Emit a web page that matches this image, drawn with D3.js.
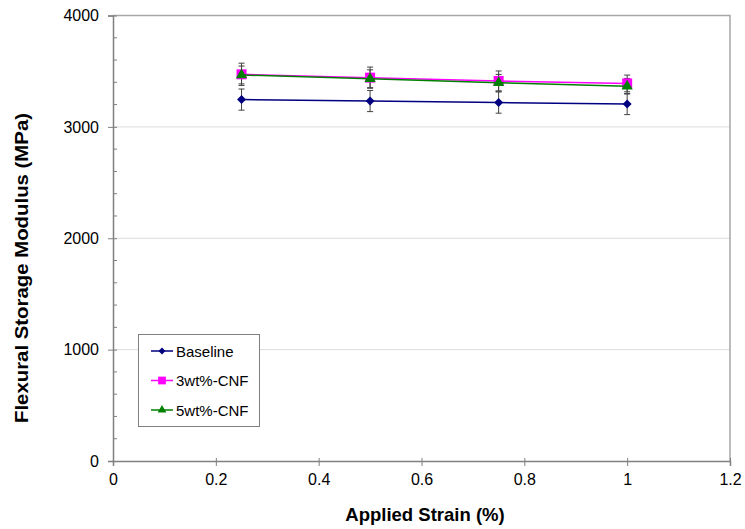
<!DOCTYPE html>
<html lang="en">
<head>
  <meta charset="UTF-8">
  <title>Flexural Storage Modulus</title>
  <script src="https://d3js.org/d3.v7.min.js"></script>
  <style>
    body { margin: 0; background: #fff; }
    text { font-family: "Liberation Sans", Arial, sans-serif; }
  </style>
</head>
<body>
  <div id="chart"></div>
  <script>
    // dados
    const strain = [0.25, 0.5, 0.75, 1];
    const baseline = [3245, 3232, 3218, 3205];
    const baselineErr = [95, 95, 95, 95];
    const cnf3 = [3472, 3442, 3412, 3390];
    const cnf3Err = [100, 95, 90, 75];
    const cnf5 = [3466, 3432, 3396, 3365];
    const cnf5Err = [80, 80, 75, 70];
    const xTicks = [0, 0.2, 0.4, 0.6, 0.8, 1, 1.2];
    const yTicks = [0, 1000, 2000, 3000, 4000];
    const seriesNames = ["Baseline", "3wt%-CNF", "5wt%-CNF"];

    const width = 745, height = 529;
    const mLeft = 113, mRight = 730, mTop = 15.5, mBottom = 461;

    const svg = d3.select("#chart").append("svg")
      .attr("width", width).attr("height", height);

    const x = d3.scaleLinear().domain([0, 1.2]).range([mLeft, mRight]);
    const y = d3.scaleLinear().domain([0, 4000]).range([mBottom, mTop]);

    // grelha
    svg.selectAll(".grid").data(yTicks.filter(d => d > 0 && d < 4000)).enter()
      .append("line")
      .attr("x1", mLeft).attr("x2", mRight)
      .attr("y1", d => y(d)).attr("y2", d => y(d))
      .attr("stroke", "#dcdcdc").attr("stroke-width", 1);

    // borda superior e direita
    svg.append("path")
      .attr("d", `M${mLeft},${mTop}H${mRight}V${mBottom}`)
      .attr("fill", "none").attr("stroke", "#a6a6a6").attr("stroke-width", 1.5);

    // ticks menores no eixo y
    const minor = d3.range(200, 4000, 200).filter(d => d % 1000 !== 0);
    svg.selectAll(".minor").data(minor).enter()
      .append("line")
      .attr("x1", mLeft).attr("x2", mLeft + 4)
      .attr("y1", d => y(d)).attr("y2", d => y(d))
      .attr("stroke", "#808080");

    // eixos
    const xAxis = svg.append("g")
      .attr("transform", `translate(0,${mBottom})`)
      .call(d3.axisBottom(x).tickValues(xTicks).tickFormat(d3.format("~g")).tickSize(5).tickPadding(8));
    const yAxis = svg.append("g")
      .attr("transform", `translate(${mLeft},0)`)
      .call(d3.axisLeft(y).tickValues(yTicks).tickSize(5).tickPadding(9).tickFormat(d => d));

    [xAxis, yAxis].forEach(a => {
      a.select(".domain").attr("stroke", "#808080").attr("stroke-width", 1.5);
      a.selectAll(".tick line").attr("stroke", "#808080");
      a.selectAll(".tick text").attr("font-size", 16).attr("fill", "#000")
        .attr("font-family", "'Liberation Sans', Arial, sans-serif");
    });
    // ticks principais atravessam o eixo y
    yAxis.selectAll(".tick line").attr("x1", 4);
    xAxis.selectAll(".tick line").attr("y1", -3);

    // titulos dos eixos
    svg.append("text")
      .attr("x", 425).attr("y", 521)
      .attr("text-anchor", "middle")
      .attr("font-size", 18.5).attr("font-weight", "bold")
      .text("Applied Strain (%)");
    svg.append("text")
      .attr("transform", "translate(28,268) rotate(-90)")
      .attr("text-anchor", "middle")
      .attr("font-size", 18).attr("font-weight", "bold")
      .attr("textLength", 310).attr("lengthAdjust", "spacingAndGlyphs")
      .text("Flexural Storage Modulus (MPa)");

    const series = [
      { name: seriesNames[0], values: baseline, err: baselineErr, color: "#000080", shape: "diamond", size: 40 },
      { name: seriesNames[1], values: cnf3, err: cnf3Err, color: "#ff00ff", shape: "square", size: 100 },
      { name: seriesNames[2], values: cnf5, err: cnf5Err, color: "#008000", shape: "triangle", size: 55 }
    ];

    // diamante do Excel = quadrado rodado 45 graus
    function marker(sel, s, scale) {
      const t = s.shape === "triangle" ? d3.symbolTriangle : d3.symbolSquare;
      sel.attr("d", d3.symbol().type(t).size(s.size * scale)).attr("fill", s.color);
    }
    const rot = s => s.shape === "diamond" ? " rotate(45)" : "";

    const line = d3.line().x((d, i) => x(strain[i])).y(d => y(d));

    // barras de erro
    series.forEach(s => {
      const g = svg.append("g");
      s.values.forEach((v, i) => {
        const cx = x(strain[i]);
        g.append("line")
          .attr("x1", cx).attr("x2", cx)
          .attr("y1", y(v - s.err[i])).attr("y2", y(v + s.err[i]))
          .attr("stroke", "#404040").attr("stroke-width", 1);
        [v - s.err[i], v + s.err[i]].forEach(e => {
          g.append("line")
            .attr("x1", cx - 3).attr("x2", cx + 3)
            .attr("y1", y(e)).attr("y2", y(e))
            .attr("stroke", "#404040").attr("stroke-width", 1);
        });
      });
    });

    // linhas e marcadores
    series.forEach(s => {
      svg.append("path")
        .attr("d", line(s.values))
        .attr("fill", "none").attr("stroke", s.color).attr("stroke-width", 1.5);
      svg.selectAll(null).data(s.values).enter()
        .append("path")
        .call(marker, s, 1)
        .attr("transform", (d, i) => `translate(${x(strain[i])},${y(d)})` + rot(s));
    });

    // legenda
    const lg = svg.append("g");
    lg.append("rect")
      .attr("x", 138.5).attr("y", 334.5).attr("width", 121).attr("height", 92)
      .attr("fill", "#fff").attr("stroke", "#808080").attr("stroke-width", 1);
    series.forEach((s, i) => {
      const ly = 351 + i * 29.5;
      lg.append("line")
        .attr("x1", 151).attr("x2", 173).attr("y1", ly).attr("y2", ly)
        .attr("stroke", s.color).attr("stroke-width", 1.5);
      lg.append("path")
        .call(marker, s, 0.6)
        .attr("transform", `translate(162,${ly})` + rot(s));
      lg.append("text")
        .attr("x", 176).attr("y", ly + 5.5)
        .attr("font-size", 15)
        .text(s.name);
    });
  </script>
</body>
</html>
